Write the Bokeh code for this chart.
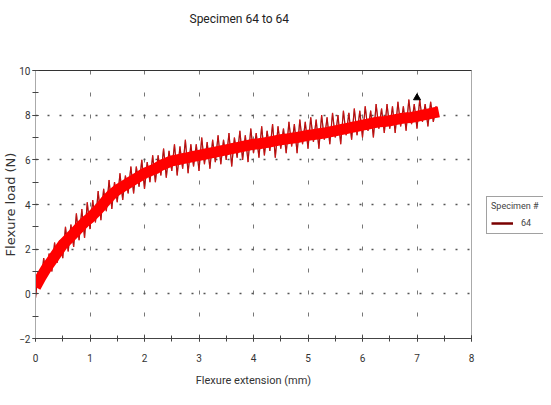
import numpy as np
from bokeh.plotting import figure
from bokeh.layouts import row
from bokeh.models import Range1d, SingleIntervalTicker, LinearAxis, Legend, LegendItem
from bokeh.embed import file_html
from bokeh.resources import INLINE

# ---- data ----
title_text = "Specimen 64 to 64"
x_label = "Flexure extension (mm)"
y_label = "Flexure load (N)"
series_name = "64"
legend_title = "Specimen #"

# sampled extension (mm) for the noisy raw trace, every 0.05 mm
x_raw = np.round(np.arange(0, 148) * 0.05, 2)
load_raw = [
    -0.2, 1.0, 0.4, 1.6, 0.8, 1.8, 1.0, 2.3, 1.4, 2.4,
    1.6, 3.0, 1.9, 3.1, 2.1, 3.6, 2.4, 3.8, 2.5, 4.1,
    2.9, 4.2, 3.2, 4.6, 3.3, 4.7, 3.7, 5.1, 3.8, 5.0,
    4.1, 5.4, 4.2, 5.3, 4.5, 5.7, 4.5, 5.7, 4.8, 6.0,
    4.7, 5.9, 5.0, 6.2, 5.0, 6.2, 5.3, 6.5, 5.2, 6.4,
    5.5, 6.7, 5.3, 6.6, 5.6, 6.9, 5.4, 6.7, 5.7, 6.7,
    5.5, 7.0, 5.8, 6.8, 5.6, 6.9, 5.9, 7.1, 5.8, 6.9,
    6.0, 7.2, 5.7, 7.0, 6.1, 7.3, 6.0, 7.1, 5.9, 7.4,
    6.3, 7.2, 6.1, 7.5, 6.2, 7.3, 6.4, 7.6, 6.1, 7.5,
    6.5, 7.4, 6.3, 7.7, 6.6, 7.6, 6.3, 7.8, 6.7, 7.7,
    6.5, 7.9, 6.8, 7.8, 6.5, 8.0, 6.9, 7.9, 6.7, 8.1,
    7.0, 8.0, 6.7, 8.2, 7.1, 8.1, 6.9, 8.3, 7.1, 8.2,
    7.0, 8.4, 7.3, 8.2, 7.0, 8.5, 7.4, 8.3, 7.2, 8.5,
    7.4, 8.4, 7.2, 8.6, 7.5, 8.4, 7.3, 8.7, 7.6, 8.5,
    7.4, 8.7, 7.7, 8.5, 7.5, 8.6, 7.7, 8.4,
]

# central band of the trace, every 0.1 mm
x_band = np.round(np.arange(0, 75) * 0.1, 2)
load_band = [
    0.3, 0.75, 1.15, 1.5, 1.85, 2.2, 2.45, 2.7, 2.95, 3.2,
    3.4, 3.65, 3.9, 4.2, 4.45, 4.65, 4.8, 4.95, 5.1, 5.25,
    5.4, 5.5, 5.6, 5.75, 5.85, 5.95, 6.0, 6.05, 6.1, 6.15,
    6.2, 6.25, 6.3, 6.35, 6.4, 6.45, 6.5, 6.55, 6.6, 6.65,
    6.7, 6.72, 6.76, 6.8, 6.85, 6.9, 6.93, 6.97, 7.0, 7.05,
    7.1, 7.13, 7.17, 7.2, 7.25, 7.3, 7.35, 7.4, 7.45, 7.5,
    7.55, 7.6, 7.65, 7.7, 7.72, 7.75, 7.8, 7.85, 7.88, 7.9,
    7.95, 8.0, 8.05, 8.1, 8.15,
]

# peak marker
peak_x = [7.0]
peak_y = [8.78]

FONT = "Roboto"

p = figure(width=476, height=389, output_backend="svg", toolbar_location=None,
           x_range=Range1d(0, 8), y_range=Range1d(-2, 10),
           min_border_left=34, min_border_right=5, min_border_top=70, min_border_bottom=47)
p.background_fill_color = "white"
p.border_fill_color = "white"
p.outline_line_color = "#aaaaaa"

p.title.text = title_text
p.title.align = "left"
p.title.offset = 154
p.title.text_font = FONT
p.title.text_font_size = "12px"
p.title.text_font_style = "normal"
p.title.text_color = "#222222"

# axes
p.xaxis.ticker = SingleIntervalTicker(interval=1, num_minor_ticks=2)
p.yaxis.ticker = SingleIntervalTicker(interval=2, num_minor_ticks=2)
for ax in (p.xaxis[0], p.yaxis[0]):
    ax.major_tick_in = 3
    ax.major_tick_out = 3
    ax.minor_tick_in = 3
    ax.minor_tick_out = 3
    ax.major_label_text_font = FONT
    ax.major_label_text_font_size = "10px"
    ax.major_label_text_color = "#333333"
    ax.axis_label_text_font_style = "normal"
    ax.axis_label_text_color = "#333333"
    ax.major_tick_line_color = "#444444"
    ax.minor_tick_line_color = "#444444"

p.xaxis.axis_line_color = "#444444"
p.xaxis.axis_label = x_label
p.xaxis.axis_label_text_font = FONT
p.xaxis.axis_label_text_font_size = "11px"
p.xaxis.major_label_standoff = 12
p.xaxis.axis_label_standoff = 9

p.yaxis.axis_line_color = "#aaaaaa"
p.yaxis.axis_label = y_label
p.yaxis.axis_label_text_font = "DejaVu Sans"
p.yaxis.axis_label_text_font_size = "13px"
p.yaxis.major_label_standoff = 2
p.yaxis.axis_label_standoff = -2

# top border line; its invisible tick extent leaves room under the title
top_ax = LinearAxis(axis_line_color="#333333", major_tick_line_color=None,
                    minor_tick_line_color=None, major_label_text_font_size="0px",
                    major_tick_in=0, major_tick_out=40, minor_tick_in=0, minor_tick_out=0,
                    major_label_standoff=0)
p.add_layout(top_ax, "above")

# grids
p.ygrid.grid_line_color = "#555555"
p.ygrid.grid_line_dash = "2 10"
p.ygrid.grid_line_width = 1.5
p.xgrid.grid_line_color = "#777777"
p.xgrid.grid_line_dash = "4 18"
p.xgrid.grid_line_width = 1

# data
p.line(x_raw, load_raw, line_color="#7a0000", line_width=1.2)
p.line(x_raw, load_raw, line_color="#ff2020", line_width=0.5)
p.line(x_band, load_band, line_color="#ff0000", line_width=11, line_join="round", line_cap="butt")
p.scatter(peak_x, peak_y, marker="triangle", size=7, color="black")

# legend panel as a small companion figure
lg = figure(width=67, height=389, output_backend="svg", toolbar_location=None,
            x_range=Range1d(0, 1), y_range=Range1d(0, 1),
            min_border=0, outline_line_color=None)
lg.axis.visible = False
lg.grid.visible = False
lg.background_fill_color = "white"
lg.border_fill_color = "white"
legend_line = lg.line([0], [0], line_color="#7a0000", line_width=2.5, visible=False)
legend = Legend(items=[LegendItem(label=series_name, renderers=[legend_line])],
                title=legend_title, location=(10, 104),
                title_text_font=FONT, title_text_font_size="9px",
                title_text_font_style="normal", label_text_font=FONT,
                label_text_font_size="9px",
                glyph_width=22, glyph_height=12, padding=4, spacing=4, margin=0,
                title_standoff=6,
                border_line_color="#444444", label_standoff=8,
                background_fill_color="white")
lg.add_layout(legend)

layout = row(p, lg, spacing=0)
open("out.html", "w").write(file_html(layout, INLINE))
